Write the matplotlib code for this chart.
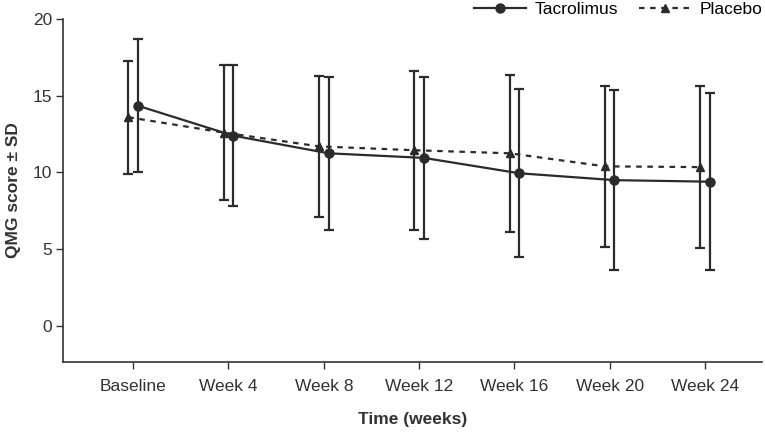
import numpy as np
import matplotlib.pyplot as plt

plt.rcParams['font.family'] = ['Liberation Sans', 'DejaVu Sans']

labels = ["Baseline", "Week 4", "Week 8", "Week 12", "Week 16", "Week 20", "Week 24"]
tac_mean = [14.35, 12.4, 11.25, 10.95, 9.95, 9.5, 9.4]
tac_sd = [4.35, 4.6, 5.0, 5.3, 5.48, 5.88, 5.78]
pla_mean = [13.6, 12.6, 11.7, 11.45, 11.25, 10.4, 10.35]
pla_sd = [3.68, 4.4, 4.58, 5.18, 5.1, 5.25, 5.28]

col = "#2b2b2b"
txt = "#333333"
x = np.arange(len(labels))

fig = plt.figure(figsize=(7.65, 4.32), dpi=100)
ax = fig.add_axes([0.0824, 0.162, 0.914, 0.794])

ax.errorbar(x + 0.05, tac_mean, yerr=tac_sd, color=col, marker="o", ms=6.5,
            lw=1.6, capsize=3.8, capthick=1.6, elinewidth=1.6, label="Tacrolimus")
ax.errorbar(x - 0.05, pla_mean, yerr=pla_sd, color=col, marker="^", ms=6,
            lw=1.6, ls=(0, (2.5, 2.5)), capsize=3.8, capthick=1.6, elinewidth=1.6,
            label="Placebo")

ax.set_xlim(-0.735, 6.6)
ax.set_ylim(-2.35, 20)
ax.set_yticks([0, 5, 10, 15, 20])
ax.set_xticks(x)
ax.set_xticklabels(labels)
ax.tick_params(axis="both", labelsize=12.5, colors=txt, length=5, width=1)
ax.tick_params(axis="x", pad=7)
ax.tick_params(axis="y", pad=3)
for s in ["top", "right"]:
    ax.spines[s].set_visible(False)
for s in ["left", "bottom"]:
    ax.spines[s].set_color(txt)
    ax.spines[s].set_linewidth(1.2)

ax.set_xlabel("Time (weeks)", fontsize=12.5, fontweight="bold", color=txt, labelpad=13)
ax.set_ylabel("QMG score ± SD", fontsize=12.5, fontweight="bold", color=txt, labelpad=8)

handles, lbls = ax.get_legend_handles_labels()
handles = [h[0] for h in handles]
ax.legend(handles, lbls, loc="center right", bbox_to_anchor=(1.0, 1.027), ncol=2,
          frameon=False, fontsize=12.5, handlelength=3, handletextpad=0.5,
          columnspacing=1.2, borderaxespad=0, borderpad=0)

fig.savefig("out.png", dpi=100)
